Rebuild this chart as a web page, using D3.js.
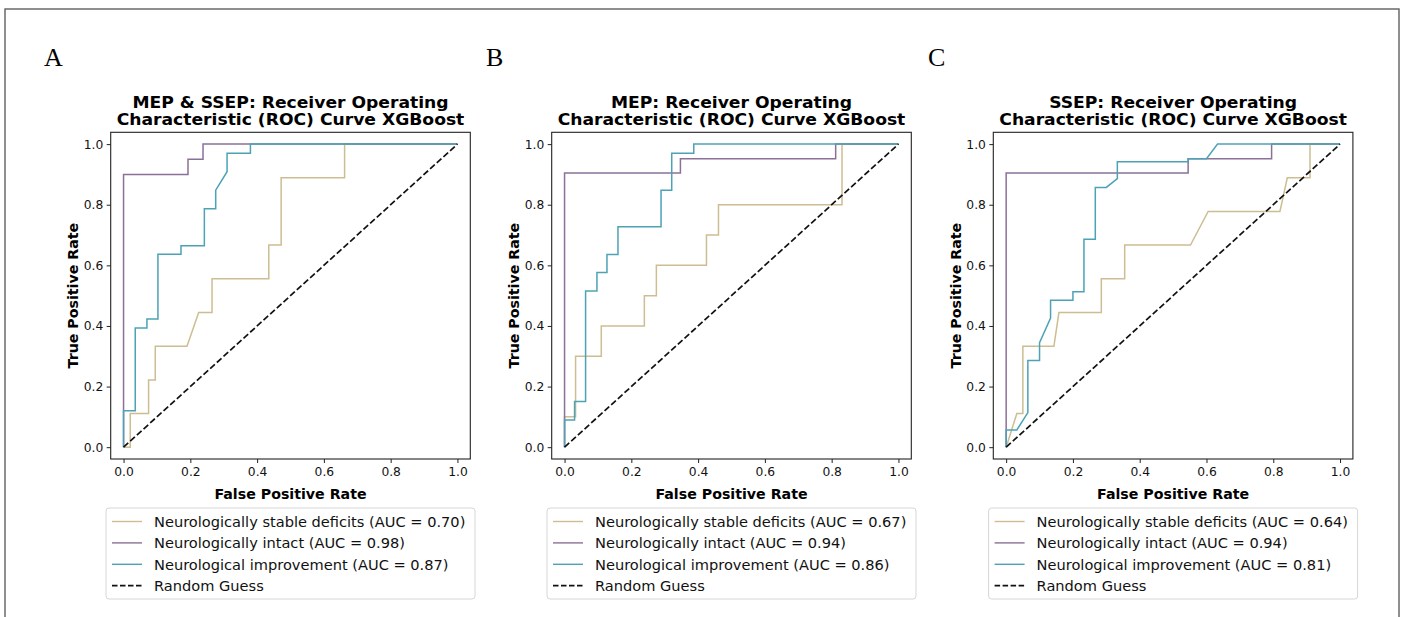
<!DOCTYPE html>
<html>
<head>
<meta charset="utf-8">
<script src="https://cdn.jsdelivr.net/npm/d3@7"></script>
<style>
  body { margin: 0; background: #fff; }
  svg { display: block; }
</style>
</head>
<body>
<svg id="chart" width="1406" height="617"></svg>
<script>
// ROC curves, [fpr, tpr] pairs
const A_stable = [[0,0],[0.02,0],[0.02,0.111],[0.075,0.111],[0.075,0.222],[0.095,0.222],[0.095,0.333],[0.19,0.333],[0.225,0.444],[0.265,0.444],[0.265,0.556],[0.435,0.556],[0.435,0.667],[0.472,0.667],[0.472,0.889],[0.662,0.889],[0.662,1],[1,1]]
const A_intact = [[0,0],[0,0.9],[0.193,0.9],[0.193,0.95],[0.238,0.95],[0.238,1],[1,1]]
const A_improv = [[0,0],[0,0.12],[0.035,0.12],[0.035,0.393],[0.07,0.393],[0.07,0.423],[0.103,0.423],[0.103,0.637],[0.172,0.637],[0.172,0.665],[0.242,0.665],[0.242,0.787],[0.276,0.787],[0.276,0.848],[0.31,0.909],[0.31,0.97],[0.38,0.97],[0.38,1],[1,1]]

const B_stable = [[0,0],[0,0.1],[0.033,0.1],[0.033,0.3],[0.11,0.3],[0.11,0.4],[0.239,0.4],[0.239,0.5],[0.275,0.5],[0.275,0.6],[0.425,0.6],[0.425,0.7],[0.461,0.7],[0.461,0.8],[0.831,0.8],[0.831,1],[1,1]]
const B_intact = [[0,0],[0,0.905],[0.347,0.905],[0.347,0.952],[0.812,0.952],[0.812,1],[1,1]]
const B_improv = [[0,0],[0,0.09],[0.03,0.09],[0.03,0.151],[0.063,0.151],[0.063,0.515],[0.097,0.515],[0.097,0.576],[0.127,0.576],[0.127,0.636],[0.16,0.636],[0.16,0.727],[0.289,0.727],[0.289,0.848],[0.321,0.848],[0.321,0.97],[0.387,0.97],[0.387,1],[1,1]]

const C_stable = [[0,0],[0.032,0.111],[0.05,0.111],[0.05,0.333],[0.143,0.333],[0.158,0.444],[0.285,0.444],[0.285,0.556],[0.355,0.556],[0.355,0.667],[0.552,0.667],[0.605,0.778],[0.82,0.778],[0.842,0.889],[0.91,0.889],[0.91,1],[1,1]]
const C_intact = [[0,0],[0,0.905],[0.545,0.905],[0.545,0.952],[0.795,0.952],[0.795,1],[1,1]]
const C_improv = [[0,0],[0,0.057],[0.032,0.057],[0.065,0.114],[0.065,0.286],[0.1,0.286],[0.1,0.345],[0.133,0.426],[0.133,0.485],[0.2,0.485],[0.2,0.513],[0.233,0.513],[0.233,0.686],[0.267,0.686],[0.267,0.857],[0.3,0.857],[0.333,0.886],[0.333,0.942],[0.545,0.942],[0.545,0.952],[0.6,0.952],[0.633,1],[1,1]]

const chance = [[0,0],[1,1]]

const panelLetters = ["A", "B", "C"]
const titlesLine1 = ["MEP & SSEP: Receiver Operating", "MEP: Receiver Operating", "SSEP: Receiver Operating"]
const titleLine2 = "Characteristic (ROC) Curve XGBoost"
const seriesNames = ["Neurologically stable deficits", "Neurologically intact", "Neurological improvement"]
const aucA = [0.70, 0.98, 0.87]
const aucB = [0.67, 0.94, 0.86]
const aucC = [0.64, 0.94, 0.81]
const ticks = [0, 0.2, 0.4, 0.6, 0.8, 1.0]
const colors = ["#cdbd92", "#8a7198", "#4da2b6"]

const panels = [
  {letter: panelLetters[0], title: titlesLine1[0], curves: [A_stable, A_intact, A_improv], auc: aucA},
  {letter: panelLetters[1], title: titlesLine1[1], curves: [B_stable, B_intact, B_improv], auc: aucB},
  {letter: panelLetters[2], title: titlesLine1[2], curves: [C_stable, C_intact, C_improv], auc: aucC}
]

const svg = d3.select("#chart")
const font = "'DejaVu Sans', sans-serif"

// outer frame of the figure, its bottom edge runs past the picture
svg.append("rect")
  .attr("x", 5).attr("y", 9)
  .attr("width", 1394).attr("height", 640)
  .attr("fill", "none").attr("stroke", "#606060").attr("stroke-width", 1.4)

const plotW = 359.6, plotTop = 132.3, plotBottom = 459
const lefts = [110.7, 551.7, 993.3]
const letterX = [44, 486, 928]

panels.forEach(function(p, i) {
  var left = lefts[i], right = left + plotW, cx = (left + right) / 2
  var x = d3.scaleLinear().domain([-0.0385, 1.0385]).range([left, right])
  var y = d3.scaleLinear().domain([-0.039, 1.039]).range([plotBottom, plotTop])
  var g = svg.append("g")

  g.append("text")
    .attr("x", letterX[i]).attr("y", 66)
    .style("font-family", "'Liberation Serif', serif")
    .style("font-size", "26px")
    .text(p.letter)

  // the figure is a little wider than tall, so the title is stretched sideways
  var tg = g.append("g").attr("transform", "translate(" + cx + ",0) scale(1.08,1)")
  tg.append("text").attr("x", 0).attr("y", 108.3)
    .attr("text-anchor", "middle")
    .style("font-family", font).style("font-weight", "bold").style("font-size", "15.9px")
    .text(p.title)
  tg.append("text").attr("x", 0).attr("y", 125)
    .attr("text-anchor", "middle")
    .style("font-family", font).style("font-weight", "bold").style("font-size", "15.9px")
    .text(titleLine2)

  var xAxis = g.append("g")
    .attr("transform", "translate(0," + plotBottom + ")")
    .call(d3.axisBottom(x).tickValues(ticks).tickFormat(d3.format(".1f")).tickSize(4).tickPadding(4.5).tickSizeOuter(0))
  var yAxis = g.append("g")
    .attr("transform", "translate(" + left + ",0)")
    .call(d3.axisLeft(y).tickValues(ticks).tickFormat(d3.format(".1f")).tickSize(4).tickPadding(3.4).tickSizeOuter(0))
  ;[xAxis, yAxis].forEach(function(a) {
    a.select(".domain").remove()
    a.selectAll("text").style("font-family", font).style("font-size", "12.3px").attr("fill", "#111")
    a.selectAll("line").attr("stroke", "#222").attr("stroke-width", 1)
  })

  var line = d3.line().x(function(d) { return x(d[0]) }).y(function(d) { return y(d[1]) })

  p.curves.forEach(function(c, k) {
    g.append("path").datum(c)
      .attr("d", line)
      .attr("fill", "none")
      .attr("stroke", colors[k])
      .attr("stroke-width", 1.5)
  })
  g.append("path").datum(chance)
    .attr("d", line)
    .attr("fill", "none")
    .attr("stroke", "#111")
    .attr("stroke-width", 1.7)
    .attr("stroke-dasharray", "6.3,2.7")

  g.append("rect")
    .attr("x", left).attr("y", plotTop)
    .attr("width", plotW).attr("height", plotBottom - plotTop)
    .attr("fill", "none").attr("stroke", "#222").attr("stroke-width", 1.1)

  g.append("text").attr("x", cx).attr("y", 499)
    .attr("text-anchor", "middle")
    .style("font-family", font).style("font-weight", "bold").style("font-size", "14.2px")
    .text("False Positive Rate")
  g.append("text")
    .attr("transform", "translate(" + (left - 32.4) + "," + ((plotTop + plotBottom) / 2) + ") rotate(-90)")
    .attr("text-anchor", "middle")
    .style("font-family", font).style("font-weight", "bold").style("font-size", "14.2px")
    .text("True Positive Rate")

  // legend
  var lw = 369, lx = cx - lw / 2, ly = 508
  var leg = g.append("g")
  leg.append("rect")
    .attr("x", lx).attr("y", ly).attr("width", lw).attr("height", 91)
    .attr("rx", 3).attr("fill", "#fff").attr("stroke", "#d6d6d6").attr("stroke-width", 1)
  var labels = seriesNames.map(function(n, k) { return n + " (AUC = " + p.auc[k].toFixed(2) + ")" })
  labels.push("Random Guess")
  labels.forEach(function(t, k) {
    var ry = 521.5 + k * 21.4
    leg.append("line")
      .attr("x1", lx + 6).attr("x2", lx + 36).attr("y1", ry).attr("y2", ry)
      .attr("stroke", k < 3 ? colors[k] : "#111")
      .attr("stroke-width", k < 3 ? 1.4 : 1.7)
      .attr("stroke-dasharray", k < 3 ? null : "5.5,2.5")
    leg.append("text")
      .attr("x", lx + 48).attr("y", ry + 5.2)
      .style("font-family", font).style("font-size", "14.6px").attr("fill", "#111")
      .text(t)
  })
})
</script>
</body>
</html>
